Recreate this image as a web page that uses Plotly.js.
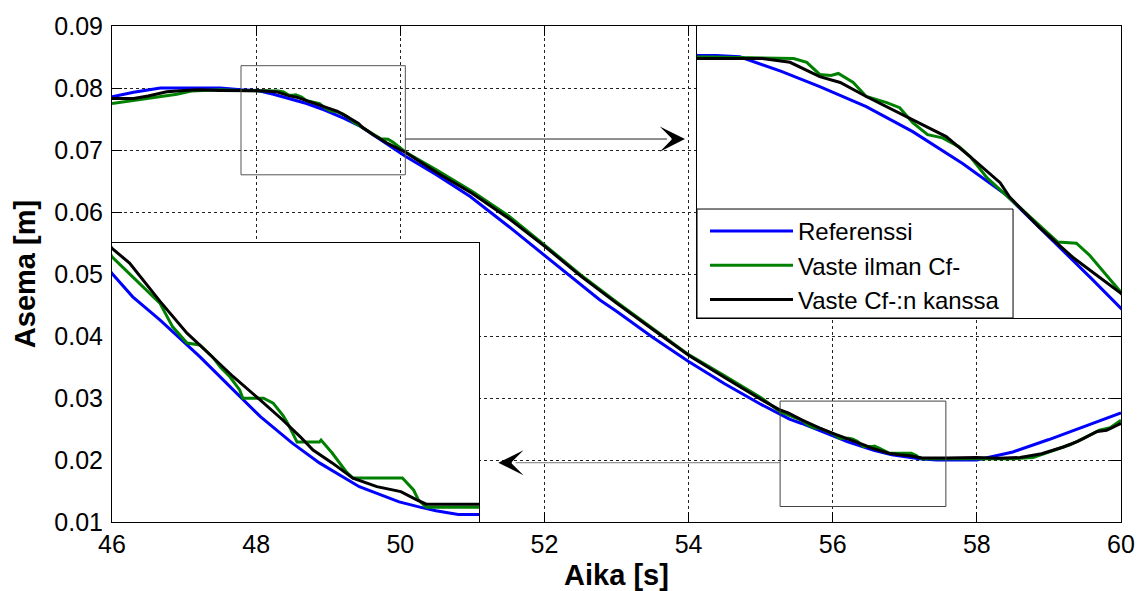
<!DOCTYPE html>
<html><head><meta charset="utf-8">
<script src="https://cdn.plot.ly/plotly-3.0.1.min.js"></script>
<style>html,body{margin:0;padding:0;background:#fff}#chart{width:1138px;height:591px}</style>
</head><body><div id="chart"></div>
<script>
// ---- data ----
const seriesNames = ['Referenssi', 'Vaste ilman Cf-', 'Vaste Cf-:n kanssa'];

const tRef = [46.0,46.3,46.67,47.5,47.79,48.02,48.24,48.45,48.70,48.95,49.22,49.45,49.73,49.91,50.07,50.5,50.97,51.5,52.0,52.5,52.77,53.0,53.5,54.0,54.5,55.0,55.27,55.40,55.57,55.82,56.03,56.20,56.40,56.57,56.82,57.07,57.20,57.30,57.44,58.0,58.5,59.0,59.5,60.0];
const yRef = [0.0786,0.0793,0.0800,0.0800,0.0797,0.0796,0.0790,0.07835,0.0775,0.07645,0.0751,0.0738,0.07167,0.07027,0.0690,0.0660,0.0625,0.0577,0.0530,0.0483,0.0458,0.0440,0.0398,0.0359,0.0323,0.0290,0.0273,0.02659,0.02589,0.02478,0.02377,0.02296,0.02216,0.02156,0.02084,0.02038,0.02022,0.02011,0.0200,0.0200,0.0213,0.0233,0.0255,0.0276];

const tNoCf = [46.0,46.3,46.6,46.9,47.1,47.5,47.79,48.31,48.38,48.45,48.51,48.55,48.63,48.70,48.81,48.88,48.95,49.03,49.11,49.20,49.26,49.35,49.54,49.73,49.83,49.90,50.07,50.5,51.0,51.5,52.0,52.5,53.0,53.5,54.0,54.5,55.0,55.27,55.40,55.57,55.65,55.71,55.74,55.82,55.90,55.95,56.01,56.07,56.09,56.22,56.28,56.34,56.37,56.43,56.57,56.58,56.65,56.74,56.78,57.09,57.16,57.19,57.24,57.58,58.0,58.5,58.78,59.0,59.3,59.5,59.7,59.85,60.0];
const yNoCf = [0.0775,0.0780,0.0786,0.0790,0.0795,0.0797,0.0796,0.07953,0.07937,0.07886,0.07882,0.0789,0.07852,0.07793,0.07767,0.07746,0.07683,0.07632,0.07619,0.07581,0.07539,0.07450,0.07315,0.07180,0.07175,0.07125,0.06968,0.0668,0.0633,0.0594,0.0547,0.0499,0.0455,0.0413,0.0370,0.0336,0.0301,0.0278,0.02720,0.02640,0.02568,0.02537,0.02519,0.02513,0.02477,0.02446,0.02416,0.02377,0.02352,0.02352,0.02337,0.02301,0.02277,0.02219,0.02219,0.02225,0.02186,0.02128,0.02110,0.02110,0.02074,0.02044,0.02022,0.02022,0.0202,0.0202,0.0204,0.0213,0.0225,0.0236,0.0248,0.0252,0.0264];

const tCf = [46.0,46.3,46.5,46.76,47.0,47.2,47.5,47.79,48.14,48.29,48.45,48.56,48.70,48.95,49.13,49.26,49.42,49.47,49.63,49.81,50.07,50.5,51.0,51.5,52.0,52.5,53.0,53.5,54.0,54.5,55.0,55.27,55.38,55.57,55.74,55.82,56.03,56.20,56.34,56.45,56.53,56.65,56.78,56.93,57.08,57.18,57.24,57.58,58.0,58.3,58.6,58.9,59.2,59.4,59.67,59.8,60.0];
const yCf = [0.0783,0.0783,0.0787,0.0794,0.0796,0.0797,0.0796,0.07953,0.07953,0.07937,0.07877,0.07852,0.07793,0.07695,0.07624,0.07539,0.0743,0.0737,0.07243,0.07116,0.06964,0.0664,0.0630,0.0590,0.0545,0.0497,0.0453,0.0411,0.0369,0.0333,0.0298,0.02806,0.02761,0.02646,0.02549,0.02513,0.02417,0.02346,0.02286,0.02235,0.02195,0.02156,0.02110,0.02084,0.02069,0.02044,0.02031,0.02031,0.0204,0.0203,0.0204,0.0210,0.0221,0.0230,0.0246,0.0248,0.0259];

const xTicks = [46,48,50,52,54,56,58,60];
const yTicks = [0.01,0.02,0.03,0.04,0.05,0.06,0.07,0.08,0.09];

// ---- styling ----
const colors = ['#0000ff', '#008000', '#000000'];
const seriesT = [tRef, tNoCf, tCf];
const seriesY = [yRef, yNoCf, yCf];

const traces = [];
[['x','y',true],['x2','y2',false],['x3','y3',false]].forEach(([xa, ya, leg]) => {
  for (let i = 0; i < 3; i++) {
    traces.push({
      type: 'scatter', mode: 'lines',
      x: seriesT[i], y: seriesY[i],
      name: seriesNames[i],
      xaxis: xa, yaxis: ya,
      showlegend: leg,
      line: {color: colors[i], width: 3}
    });
  }
});

const font = 'Arial, "Liberation Sans", sans-serif';
const mainAxis = {
  ticks: 'inside', ticklen: 10, tickwidth: 1, tickcolor: '#000',
  showline: true, linecolor: '#000', linewidth: 1, mirror: 'allticks',
  showgrid: true, gridcolor: '#222', griddash: '3px,3px', gridwidth: 1,
  zeroline: false, tickfont: {size: 25, color: '#000', family: font}
};
const insetAxis = {
  showticklabels: false, ticks: '', showgrid: false, zeroline: false,
  showline: true, mirror: true, linecolor: '#000', linewidth: 1
};

const layout = {
  width: 1138, height: 591,
  margin: {l: 112, r: 17, t: 26, b: 69},
  paper_bgcolor: '#fff', plot_bgcolor: '#fff',
  font: {family: font, size: 24, color: '#000'},
  showlegend: true,
  legend: {
    x: 0.5877, y: 0.631, xanchor: 'left', yanchor: 'top',
    bgcolor: 'rgba(0,0,0,0)', borderwidth: 0,
    font: {size: 24, family: font, color: '#000'},
    itemwidth: 83, traceorder: 'normal'
  },
  xaxis: Object.assign({}, mainAxis, {
    range: [46, 60], tickvals: xTicks,
    title: {text: '<b>Aika [s]</b>', font: {size: 29, family: font}, standoff: 10}
  }),
  yaxis: Object.assign({}, mainAxis, {
    range: [0.01, 0.09], tickvals: yTicks, tickformat: '.2f', ticklabelstandoff: 3,
    title: {text: '<b>Asema [m]</b>', font: {size: 29, family: font}, standoff: 10}
  }),
  xaxis2: Object.assign({}, insetAxis, {domain: [0.5798, 1], anchor: 'y2', range: [47.79, 50.07]}),
  yaxis2: Object.assign({}, insetAxis, {domain: [0.4113, 1], anchor: 'x2', range: [0.0686, 0.0809]}),
  xaxis3: Object.assign({}, insetAxis, {domain: [0, 0.3637], anchor: 'y3', range: [55.27, 57.57]}),
  yaxis3: Object.assign({}, insetAxis, {domain: [0, 0.5625], anchor: 'x3', range: [0.01977, 0.02822]}),
  shapes: [
    // zoom boxes
    {type: 'rect', xref: 'x', yref: 'y', x0: 47.79, x1: 50.07, y0: 0.066, y1: 0.0836,
     line: {color: '#555', width: 1}, layer: 'above'},
    {type: 'rect', xref: 'x', yref: 'y', x0: 55.27, x1: 57.57, y0: 0.0125, y1: 0.0295,
     line: {color: '#444', width: 1}, layer: 'above'},
    // arrow shafts
    {type: 'line', xref: 'x', yref: 'y', x0: 50.07, x1: 53.7, y0: 0.07177, y1: 0.07177,
     line: {color: '#222', width: 1}, layer: 'above'},
    {type: 'line', xref: 'x', yref: 'y', x0: 55.27, x1: 51.6, y0: 0.01956, y1: 0.01956,
     line: {color: '#777', width: 1}, layer: 'above'},
    // legend box
    {type: 'rect', xref: 'paper', yref: 'paper', x0: 0.5798, x1: 0.8930, y0: 0.4113, y1: 0.6310,
     fillcolor: '#fff', line: {color: '#000', width: 1}, layer: 'above'}
  ],
  annotations: [
    {xref: 'x', yref: 'y', axref: 'x', ayref: 'y', x: 53.95, y: 0.07177, ax: 53.75, ay: 0.07177,
     text: '', showarrow: true, arrowhead: 3, arrowsize: 4.2, arrowwidth: 1, arrowcolor: '#000'},
    {xref: 'x', yref: 'y', axref: 'x', ayref: 'y', x: 51.36, y: 0.01956, ax: 51.56, ay: 0.01956,
     text: '', showarrow: true, arrowhead: 3, arrowsize: 4.2, arrowwidth: 1, arrowcolor: '#000'}
  ]
};

Plotly.newPlot('chart', traces, layout, {displayModeBar: false, staticPlot: true});
</script>
</body></html>
